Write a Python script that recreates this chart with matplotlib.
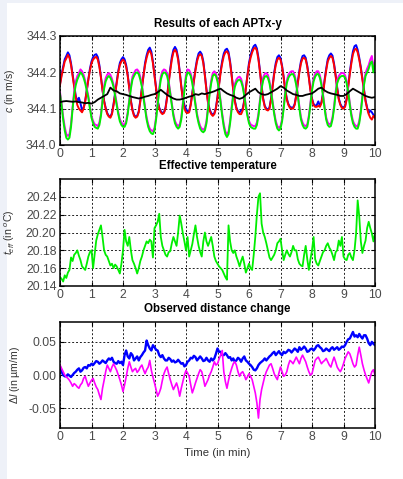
import numpy as np
import matplotlib
matplotlib.use("Agg")
import matplotlib.pyplot as plt
from matplotlib.patches import Rectangle
from matplotlib.ticker import FormatStrFormatter

plt.rcParams['font.family'] = ['Liberation Sans', 'DejaVu Sans']
plt.rcParams['mathtext.fontset'] = 'custom'
plt.rcParams['mathtext.rm'] = 'Liberation Sans'
plt.rcParams['mathtext.it'] = 'Liberation Sans:italic'

# ---------------- data (time 0..10 min, evenly sampled) ----------------
c_red = [344.165, 344.19, 344.21, 344.23, 344.238, 344.248, 344.24, 344.22, 344.19, 344.16, 344.13, 344.11, 344.1, 344.095, 344.09, 344.1, 344.12, 344.15, 344.18, 344.205,
         344.225, 344.235, 344.24, 344.243, 344.235, 344.215, 344.185, 344.15, 344.12, 344.1, 344.085, 344.078, 344.075, 344.085, 344.11, 344.14, 344.17, 344.2, 344.22, 344.23,
         344.235, 344.23, 344.215, 344.19, 344.155, 344.12, 344.095, 344.08, 344.075, 344.078, 344.09, 344.12, 344.155, 344.19, 344.22, 344.24, 344.255, 344.26, 344.25, 344.225,
         344.19, 344.155, 344.12, 344.1, 344.09, 344.085, 344.088, 344.1, 344.13, 344.17, 344.205, 344.235, 344.255, 344.262, 344.255, 344.235, 344.2, 344.16, 344.125, 344.1,
         344.09, 344.088, 344.09, 344.11, 344.14, 344.175, 344.205, 344.23, 344.245, 344.25, 344.245, 344.225, 344.19, 344.15, 344.115, 344.095, 344.085, 344.08, 344.085, 344.1,
         344.13, 344.165, 344.2, 344.225, 344.245, 344.255, 344.258, 344.25, 344.225, 344.19, 344.15, 344.12, 344.1, 344.09, 344.085, 344.085, 344.095, 344.12, 344.155, 344.19,
         344.22, 344.24, 344.255, 344.265, 344.268, 344.26, 344.235, 344.2, 344.16, 344.125, 344.105, 344.097, 344.095, 344.1, 344.125, 344.16, 344.195, 344.22, 344.235, 344.24,
         344.235, 344.215, 344.185, 344.15, 344.125, 344.11, 344.102, 344.1, 344.1, 344.11, 344.135, 344.17, 344.2, 344.225, 344.238, 344.24, 344.235, 344.215, 344.185, 344.15,
         344.125, 344.11, 344.105, 344.105, 344.108, 344.105, 344.115, 344.14, 344.175, 344.205, 344.23, 344.24, 344.245, 344.24, 344.22, 344.19, 344.155, 344.125, 344.11, 344.102,
         344.1, 344.105, 344.125, 344.16, 344.195, 344.225, 344.25, 344.262, 344.265, 344.255, 344.235, 344.21, 344.18, 344.15, 344.12, 344.1, 344.085, 344.075, 344.07, 344.08, 344.075]

c_blue = [344.168, 344.195, 344.215, 344.236, 344.245, 344.255, 344.247, 344.225, 344.195, 344.165, 344.135, 344.12, 344.13, 344.115, 344.095, 344.103, 344.122, 344.152, 344.183, 344.21,
          344.23, 344.242, 344.248, 344.25, 344.242, 344.22, 344.188, 344.152, 344.122, 344.102, 344.088, 344.08, 344.078, 344.088, 344.113, 344.143, 344.173, 344.204, 344.226, 344.236,
          344.242, 344.236, 344.22, 344.193, 344.158, 344.123, 344.098, 344.083, 344.078, 344.08, 344.093, 344.123, 344.158, 344.194, 344.226, 344.247, 344.262, 344.268, 344.257, 344.23,
          344.193, 344.158, 344.123, 344.103, 344.093, 344.088, 344.09, 344.103, 344.133, 344.175, 344.21, 344.242, 344.262, 344.27, 344.262, 344.24, 344.203, 344.163, 344.128, 344.11,
          344.1, 344.092, 344.093, 344.113, 344.143, 344.178, 344.21, 344.236, 344.252, 344.257, 344.25, 344.23, 344.193, 344.153, 344.118, 344.098, 344.088, 344.083, 344.088, 344.103,
          344.133, 344.168, 344.205, 344.232, 344.252, 344.262, 344.265, 344.256, 344.23, 344.193, 344.153, 344.123, 344.103, 344.093, 344.09, 344.095, 344.1, 344.123, 344.158, 344.195,
          344.226, 344.247, 344.262, 344.272, 344.276, 344.266, 344.24, 344.203, 344.163, 344.128, 344.108, 344.1, 344.098, 344.103, 344.128, 344.163, 344.2, 344.226, 344.242, 344.247,
          344.24, 344.218, 344.188, 344.153, 344.128, 344.113, 344.105, 344.103, 344.103, 344.113, 344.138, 344.174, 344.205, 344.231, 344.245, 344.247, 344.24, 344.218, 344.188, 344.153,
          344.128, 344.113, 344.108, 344.11, 344.12, 344.108, 344.118, 344.143, 344.18, 344.21, 344.236, 344.247, 344.252, 344.246, 344.224, 344.193, 344.158, 344.128, 344.113, 344.105,
          344.103, 344.108, 344.128, 344.164, 344.2, 344.232, 344.258, 344.272, 344.275, 344.262, 344.24, 344.214, 344.183, 344.153, 344.123, 344.103, 344.088, 344.095, 344.09, 344.083, 344.078]

c_green = [344.14, 344.11, 344.07, 344.04, 344.02, 344.015, 344.02, 344.05, 344.1, 344.14, 344.165, 344.18, 344.19, 344.2, 344.195, 344.185, 344.17, 344.15, 344.13, 344.1,
           344.075, 344.06, 344.05, 344.047, 344.045, 344.055, 344.08, 344.12, 344.155, 344.175, 344.185, 344.19, 344.185, 344.175, 344.16, 344.135, 344.11, 344.085, 344.065, 344.055,
           344.05, 344.05, 344.06, 344.085, 344.12, 344.155, 344.18, 344.19, 344.198, 344.2, 344.195, 344.18, 344.16, 344.13, 344.1, 344.07, 344.05, 344.038, 344.032, 344.03,
           344.04, 344.07, 344.11, 344.15, 344.18, 344.195, 344.2, 344.198, 344.19, 344.17, 344.14, 344.11, 344.08, 344.06, 344.05, 344.045, 344.05, 344.07, 344.11, 344.15,
           344.185, 344.2, 344.198, 344.19, 344.17, 344.14, 344.11, 344.08, 344.06, 344.045, 344.038, 344.035, 344.04, 344.06, 344.1, 344.14, 344.17, 344.19, 344.195, 344.19,
           344.175, 344.15, 344.115, 344.08, 344.05, 344.03, 344.022, 344.03, 344.06, 344.1, 344.135, 344.16, 344.172, 344.178, 344.18, 344.175, 344.16, 344.135, 344.105, 344.08,
           344.06, 344.05, 344.047, 344.045, 344.045, 344.055, 344.08, 344.12, 344.155, 344.178, 344.188, 344.19, 344.185, 344.17, 344.145, 344.115, 344.085, 344.06, 344.045, 344.04,
           344.045, 344.065, 344.1, 344.14, 344.17, 344.185, 344.192, 344.195, 344.195, 344.185, 344.165, 344.135, 344.1, 344.07, 344.055, 344.047, 344.045, 344.05, 344.075, 344.11,
           344.15, 344.175, 344.188, 344.195, 344.195, 344.185, 344.165, 344.135, 344.1, 344.07, 344.055, 344.05, 344.052, 344.07, 344.1, 344.14, 344.17, 344.182, 344.188, 344.19,
           344.19, 344.185, 344.17, 344.145, 344.11, 344.08, 344.06, 344.05, 344.045, 344.045, 344.06, 344.09, 344.13, 344.165, 344.19, 344.2, 344.21, 344.225, 344.23, 344.2, 344.225]

c_magenta = [344.145, 344.115, 344.078, 344.05, 344.03, 344.025, 344.03, 344.058, 344.105, 344.148, 344.175, 344.19, 344.198, 344.208, 344.203, 344.193, 344.177, 344.156, 344.135, 344.105,
             344.08, 344.066, 344.057, 344.055, 344.052, 344.062, 344.086, 344.126, 344.162, 344.184, 344.194, 344.198, 344.193, 344.182, 344.166, 344.14, 344.115, 344.09, 344.071, 344.062,
             344.057, 344.056, 344.066, 344.09, 344.125, 344.162, 344.188, 344.198, 344.206, 344.208, 344.202, 344.187, 344.166, 344.135, 344.105, 344.076, 344.057, 344.045, 344.04, 344.038,
             344.047, 344.076, 344.116, 344.157, 344.188, 344.203, 344.208, 344.206, 344.197, 344.176, 344.145, 344.115, 344.086, 344.066, 344.057, 344.052, 344.057, 344.076, 344.116, 344.157,
             344.193, 344.208, 344.206, 344.197, 344.176, 344.145, 344.115, 344.086, 344.066, 344.052, 344.045, 344.042, 344.047, 344.066, 344.106, 344.147, 344.178, 344.198, 344.203, 344.197,
             344.181, 344.155, 344.12, 344.086, 344.057, 344.037, 344.03, 344.037, 344.066, 344.106, 344.142, 344.168, 344.18, 344.186, 344.188, 344.182, 344.166, 344.14, 344.11, 344.086,
             344.066, 344.057, 344.054, 344.052, 344.052, 344.062, 344.086, 344.126, 344.162, 344.186, 344.196, 344.198, 344.193, 344.176, 344.15, 344.12, 344.09, 344.066, 344.052, 344.047,
             344.052, 344.071, 344.106, 344.147, 344.178, 344.193, 344.2, 344.203, 344.203, 344.192, 344.171, 344.14, 344.106, 344.076, 344.062, 344.054, 344.052, 344.057, 344.081, 344.116,
             344.157, 344.183, 344.196, 344.203, 344.203, 344.192, 344.171, 344.14, 344.106, 344.076, 344.062, 344.057, 344.059, 344.076, 344.106, 344.147, 344.178, 344.19, 344.196, 344.198,
             344.198, 344.192, 344.176, 344.15, 344.116, 344.086, 344.066, 344.057, 344.052, 344.052, 344.066, 344.096, 344.136, 344.172, 344.198, 344.21, 344.22, 344.235, 344.245, 344.21, 344.232]

c_black = [344.118, 344.12, 344.121, 344.12, 344.119, 344.12, 344.118, 344.117, 344.115, 344.116,
           344.114, 344.118, 344.125, 344.13, 344.135, 344.14, 344.158, 344.15, 344.148, 344.142,
           344.14, 344.138, 344.135, 344.132, 344.13, 344.128, 344.13, 344.133, 344.135, 344.138,
           344.14, 344.145, 344.152, 344.145, 344.138, 344.133, 344.128, 344.125, 344.125, 344.127,
           344.13, 344.133, 344.135, 344.14, 344.138, 344.142, 344.14, 344.143, 344.145, 344.148,
           344.152, 344.155, 344.148, 344.142, 344.138, 344.135, 344.13, 344.127, 344.13, 344.138,
           344.145, 344.15, 344.155, 344.145, 344.14, 344.138, 344.14, 344.145, 344.15, 344.155,
           344.162, 344.158, 344.15, 344.145, 344.14, 344.138, 344.135, 344.135, 344.138, 344.14,
           344.142, 344.148, 344.155, 344.158, 344.15, 344.145, 344.142, 344.14, 344.138, 344.135,
           344.135, 344.14, 344.148, 344.155, 344.15, 344.145, 344.14, 344.135, 344.132, 344.13, 344.132]

t_eff = [20.150, 20.148, 20.145, 20.152, 20.149, 20.155, 20.158, 20.172, 20.168, 20.175, 20.177, 20.18, 20.174, 20.169, 20.162, 20.16, 20.158, 20.165, 20.173, 20.178,
         20.18, 20.16, 20.175, 20.191, 20.198, 20.203, 20.208, 20.195, 20.18, 20.175, 20.173, 20.168, 20.163, 20.165, 20.16, 20.164, 20.162, 20.158, 20.154, 20.165,
         20.18, 20.203, 20.19, 20.185, 20.195, 20.18, 20.169, 20.165, 20.16, 20.154, 20.16, 20.168, 20.173, 20.18, 20.185, 20.19, 20.188, 20.192, 20.19, 20.172,
         20.205, 20.208, 20.212, 20.221, 20.195, 20.185, 20.18, 20.175, 20.173, 20.178, 20.179, 20.188, 20.195, 20.19, 20.185, 20.2, 20.219, 20.21, 20.199, 20.19,
         20.18, 20.195, 20.173, 20.18, 20.187, 20.198, 20.208, 20.195, 20.185, 20.178, 20.173, 20.19, 20.2, 20.19, 20.185, 20.19, 20.195, 20.185, 20.173, 20.168,
         20.165, 20.162, 20.16, 20.158, 20.154, 20.15, 20.147, 20.208, 20.19, 20.18, 20.177, 20.18, 20.173, 20.168, 20.162, 20.168, 20.173, 20.165, 20.155, 20.16,
         20.165, 20.16, 20.158, 20.175, 20.195, 20.22, 20.24, 20.244, 20.21, 20.2, 20.195, 20.188, 20.18, 20.172, 20.169, 20.172, 20.175, 20.18, 20.188, 20.19,
         20.193, 20.18, 20.169, 20.175, 20.18, 20.176, 20.173, 20.178, 20.185, 20.18, 20.18, 20.17, 20.165, 20.163, 20.162, 20.175, 20.185, 20.17, 20.158, 20.17,
         20.18, 20.195, 20.17, 20.165, 20.163, 20.168, 20.173, 20.178, 20.18, 20.185, 20.188, 20.183, 20.18, 20.175, 20.169, 20.178, 20.18, 20.191, 20.185, 20.195,
         20.173, 20.17, 20.169, 20.175, 20.177, 20.172, 20.169, 20.18, 20.199, 20.236, 20.218, 20.19, 20.177, 20.185, 20.191, 20.205, 20.212, 20.205, 20.199, 20.19, 20.199]

dl_blue = [0.012, 0.005, 0.0, -0.002, -0.002, 0.001, -0.001, -0.003, 0.0, 0.003, 0.005, 0.008, 0.01, 0.005, 0.007, 0.011, 0.012, 0.01, 0.015, 0.014,
           0.017, 0.015, 0.018, 0.021, 0.02, 0.017, 0.019, 0.022, 0.02, 0.018, 0.022, 0.025, 0.023, 0.026, 0.02, 0.018, 0.017, 0.021, 0.018, 0.02,
           0.015, 0.03, 0.037, 0.028, 0.025, 0.033, 0.03, 0.022, 0.025, 0.028, 0.022, 0.027, 0.03, 0.034, 0.037, 0.052, 0.045, 0.04, 0.037, 0.045,
           0.042, 0.038, 0.037, 0.03, 0.027, 0.03, 0.025, 0.022, 0.022, 0.026, 0.024, 0.02, 0.022, 0.019, 0.02, 0.023, 0.02, 0.017, 0.018, 0.013,
           0.015, 0.02, 0.022, 0.026, 0.025, 0.029, 0.027, 0.022, 0.025, 0.028, 0.025, 0.021, 0.022, 0.026, 0.022, 0.02, 0.025, 0.022, 0.025, 0.032,
           0.04, 0.035, 0.035, 0.03, 0.03, 0.033, 0.03, 0.026, 0.027, 0.022, 0.025, 0.02, 0.022, 0.026, 0.024, 0.02, 0.025, 0.028, 0.022, 0.02,
           0.017, 0.015, 0.012, 0.008, 0.007, 0.01, 0.015, 0.018, 0.02, 0.022, 0.025, 0.022, 0.025, 0.028, 0.03, 0.033, 0.035, 0.03, 0.033, 0.036,
           0.032, 0.03, 0.035, 0.033, 0.035, 0.038, 0.037, 0.034, 0.037, 0.04, 0.038, 0.035, 0.042, 0.038, 0.04, 0.043, 0.04, 0.035, 0.036, 0.039,
           0.04, 0.037, 0.04, 0.044, 0.045, 0.042, 0.04, 0.036, 0.037, 0.04, 0.038, 0.036, 0.04, 0.042, 0.038, 0.04, 0.042, 0.038, 0.04, 0.043,
           0.042, 0.045, 0.05, 0.054, 0.055, 0.06, 0.065, 0.058, 0.06, 0.057, 0.062, 0.058, 0.055, 0.06, 0.06, 0.055, 0.048, 0.045, 0.05, 0.047, 0.045]

dl_magenta = [0.015, 0.01, 0.005, 0.0, -0.003, -0.005, -0.008, -0.012, -0.017, -0.013, -0.015, -0.018, -0.02, -0.015, -0.012, -0.005, -0.002, -0.01, -0.017, -0.012,
              -0.008, -0.005, -0.012, -0.018, -0.022, -0.03, -0.037, -0.02, -0.008, 0.005, 0.015, 0.01, 0.005, 0.012, 0.017, 0.012, 0.007, 0.0, -0.007, -0.015,
              -0.025, -0.015, -0.003, 0.01, 0.02, 0.012, 0.005, 0.008, 0.01, 0.004, 0.007, 0.012, 0.015, 0.008, 0.002, 0.008, 0.012, 0.022, 0.007, -0.003,
              -0.012, -0.022, -0.032, -0.027, -0.02, -0.008, 0.002, 0.008, 0.012, 0.002, -0.007, -0.015, -0.022, -0.017, -0.012, -0.02, -0.032, -0.02, -0.01, 0.0,
              0.007, 0.003, -0.002, -0.015, -0.027, -0.02, -0.012, -0.005, 0.002, 0.008, 0.005, -0.005, -0.017, -0.012, -0.007, 0.0, 0.005, 0.012, 0.02, 0.015,
              0.017, 0.024, 0.03, 0.037, 0.005, -0.01, -0.02, -0.008, 0.002, 0.01, 0.017, 0.02, 0.015, 0.005, -0.002, 0.003, 0.005, 0.0, -0.007, -0.003,
              0.002, -0.002, -0.007, -0.017, -0.027, -0.042, -0.065, -0.037, -0.022, -0.012, -0.002, 0.005, 0.01, 0.015, 0.017, 0.01, 0.002, -0.003, -0.007, 0.003,
              0.012, 0.005, -0.002, 0.0, 0.005, 0.015, 0.022, 0.02, 0.017, 0.022, 0.027, 0.022, 0.017, 0.025, 0.03, 0.025, 0.02, 0.012, 0.005, 0.0,
              0.002, 0.012, 0.022, 0.025, 0.027, 0.022, 0.017, 0.02, 0.022, 0.025, 0.02, 0.015, 0.012, 0.02, 0.027, 0.02, 0.012, 0.008, 0.005, 0.01,
              0.017, 0.025, 0.03, 0.035, 0.032, 0.025, 0.017, 0.012, 0.015, 0.03, 0.042, 0.03, 0.017, 0.008, 0.0, -0.006, -0.012, -0.003, 0.005, 0.008, 0.0]

x_ticks = [0, 1, 2, 3, 4, 5, 6, 7, 8, 9, 10]
c_ticks = [344.0, 344.1, 344.2, 344.3]
t_ticks = [20.14, 20.16, 20.18, 20.20, 20.22, 20.24]
dl_ticks = [-0.05, 0.0, 0.05]


def tt(arr):
    return np.linspace(0, 10, len(arr))


W, H = 403, 479
fig = plt.figure(figsize=(W / 100, H / 100), dpi=100)
fig.patch.set_facecolor('#eef1f8')
fig.patches.append(Rectangle((7 / W, 0), 1, 1 - 3 / H, transform=fig.transFigure,
                             facecolor='white', edgecolor='none', zorder=-5))

L, Wd = 60 / W, 315 / W
ax1 = fig.add_axes([L, 1 - 145 / H, Wd, 109 / H])
ax2 = fig.add_axes([L, 1 - 286 / H, Wd, 107 / H])
ax3 = fig.add_axes([L, 1 - 428 / H, Wd, 106 / H])

tick_col = '#4a4a4a'
for ax in (ax1, ax2, ax3):
    ax.set_xlim(0, 10)
    ax.set_xticks(x_ticks)
    ax.grid(True, color='#222222', linestyle=(0, (2, 2)), linewidth=0.7)
    ax.tick_params(direction='in', length=3, width=0.8, top=True, right=True,
                   labelsize=8.8, labelcolor=tick_col, pad=2.5)
    for s in ax.spines.values():
        s.set_linewidth(1.1)
        s.set_color('black')

# Top panel
ax1.plot(tt(c_blue), c_blue, color='#0000ff', lw=1.4)
ax1.plot(tt(c_red), c_red, color='#ff0000', lw=1.4)
ax1.plot(tt(c_magenta), c_magenta, color='#ff00ff', lw=1.4)
ax1.plot(tt(c_green), c_green, color='#00ee00', lw=1.4)
ax1.plot(tt(c_black), c_black, color='black', lw=1.3)
ax1.set_ylim(344.0, 344.3)
ax1.set_yticks(c_ticks)
ax1.yaxis.set_major_formatter(FormatStrFormatter('%.1f'))
ax1.set_title('Results of each APTx-y', fontsize=8.3, fontweight='bold', pad=6.5)
ax1.set_ylabel(r'$c$ (in m/s)', fontsize=7.6, color='#333333')
ax1.yaxis.set_label_coords(-0.137, 0.5)

# Middle panel
ax2.plot(tt(t_eff), t_eff, color='#00ee00', lw=1.3)
ax2.set_ylim(20.14, 20.26)
ax2.set_yticks(t_ticks)
ax2.yaxis.set_major_formatter(FormatStrFormatter('%.2f'))
ax2.set_title('Effective temperature', fontsize=8.3, fontweight='bold', pad=7.5)
ax2.set_ylabel(r'$t_{eff}$ (in $^o$C)', fontsize=7.6, color='#333333')
ax2.yaxis.set_label_coords(-0.137, 0.5)

# Bottom panel
ax3.plot(tt(dl_blue), dl_blue, color='#0000ff', lw=1.7)
ax3.plot(tt(dl_magenta), dl_magenta, color='#ff00ff', lw=1.2)
ax3.set_ylim(-0.08, 0.08)
ax3.set_yticks(dl_ticks)
ax3.yaxis.set_major_formatter(FormatStrFormatter('%.2f'))
ax3.set_title('Observed distance change', fontsize=8.3, fontweight='bold', pad=7.5)
ax3.set_ylabel('Δ$l$ (in µm/m)', fontsize=7.6, color='#333333')
ax3.yaxis.set_label_coords(-0.12, 0.5)
ax3.set_xlabel('Time (in min)', fontsize=8.2, color='#333333', labelpad=3)

fig.savefig('out.png', dpi=100, facecolor=fig.get_facecolor())
